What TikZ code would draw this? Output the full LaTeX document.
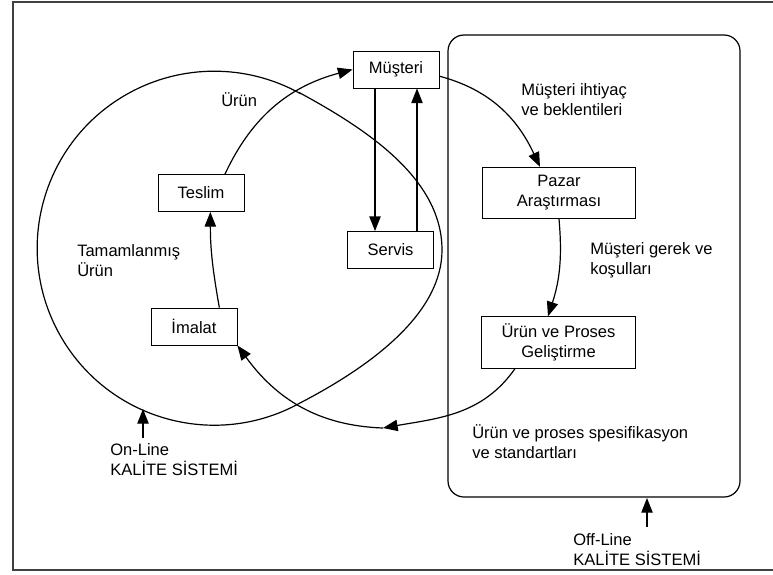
\documentclass[tikz,border=0pt]{standalone}
\usepackage{fontspec}
\setmainfont{Liberation Sans}
\usepackage{tikz}
\usetikzlibrary{arrows.meta}
\tikzstyle{pixelGrid} = [x = .75pt, y = -.75pt]
\tikzstyle{textFont} = [font = \fontsize{12.4}{15}\selectfont]
\tikzstyle{boxStyle} = [draw, line width = .65pt, minimum width = 64.5pt, minimum height = 27.75pt, inner sep = 1pt, align = center, textFont]
\tikzstyle{bigBoxStyle} = [boxStyle, minimum width = 115pt, minimum height = 38.5pt]
\tikzstyle{labelText} = [anchor = west, align = left, inner sep = 0pt, textFont]
\tikzstyle{flowLine} = [line width = .9pt, -{Triangle[length = 11pt, width = 8.5pt]}]
\tikzstyle{cycleLine} = [line width = .9pt]
\tikzstyle{frameLine} = [draw = black!75, line width = 1pt]
\newcommand{\qualityLabel}[5]{
  \node [labelText] (#1) at (#2) {#3\\KALİTE SİSTEMİ};
  \coordinate (#1Foot) at (#4);
  \coordinate (#1Tip) at (#5);
  \draw [flowLine] (#1Foot) -- (#1Tip);
}

\begin{document}
\begin{tikzpicture}[pixelGrid]
            \useasboundingbox (0,0) rectangle (773,574);
            \draw [frameLine] (790,2) -- (13,2) -- (13,570) -- (790,570);
            \draw [cycleLine, rounded corners = 12pt] (448,35) rectangle (740,497);
            \draw [cycleLine] (300,93) .. controls (370,131) and (442,180) .. (442,250)
              .. controls (442,310) and (379,362) .. (300,403)
              arc [start angle = 61, end angle = 299, radius = 177] -- cycle;

            \node [boxStyle] (musteri) at (396,69.5) {Müşteri};
            \node [boxStyle] (teslim) at (201,193) {Teslim};
            \node [boxStyle] (servis) at (390.5,250) {Servis};
            \node [boxStyle] (imalat) at (194,326.5) {İmalat};
            \node [bigBoxStyle] (pazar) at (559,193) {Pazar\\Araştırması};
            \node [bigBoxStyle] (gelistirme) at (558.5,342.5) {Ürün ve Proses\\Geliştirme};
            \coordinate (spec) at (383,428);

            \node [labelText] (urunText) at (221,100) {Ürün};
            \node [labelText] (tamamText) at (77,261) {Tamamlanmış\\Ürün};
            \node [labelText] (ihtiyacText) at (521,100) {Müşteri ihtiyaç\\ve beklentileri};
            \node [labelText] (gerekText) at (590,260) {Müşteri gerek ve\\koşulları};
            \node [labelText] (specText) at (472,442) {Ürün ve proses spesifikasyon\\ve standartları};
            \qualityLabel{onLine}{110,460}{On-Line}{143,438}{143,409}
            \qualityLabel{offLine}{573,550}{Off-Line}{647,527}{647,498}

            \draw [flowLine] ([xshift = 18pt]teslim.north) to [out = 65, in = 195] (musteri.west);
            \draw [flowLine] ([yshift = -5pt]musteri.east) to [out = -15, in = 115] ([xshift = -14.25pt]pazar.north);
            \draw [flowLine] (pazar.south) to [out = -85, in = 72] ([xshift = -7.9pt]gelistirme.north);
            \draw [flowLine] ([xshift = -32.6pt]gelistirme.south) to [out = -125, in = 10] (spec);
            \draw [flowLine] (spec) to [out = 178, in = -54] (imalat.south east);
            \draw [flowLine] ([xshift = 19pt]imalat.north) to [out = 100, in = -90] ([xshift = 7pt]teslim.south);
            \draw [flowLine] ([xshift = -15.75pt]musteri.south) -- ([xshift = -15.75pt]musteri.south |- servis.north);
            \draw [flowLine] ([xshift = 15.75pt]musteri.south |- servis.north) -- ([xshift = 15.75pt]musteri.south);
          \end{tikzpicture}
\end{document}
